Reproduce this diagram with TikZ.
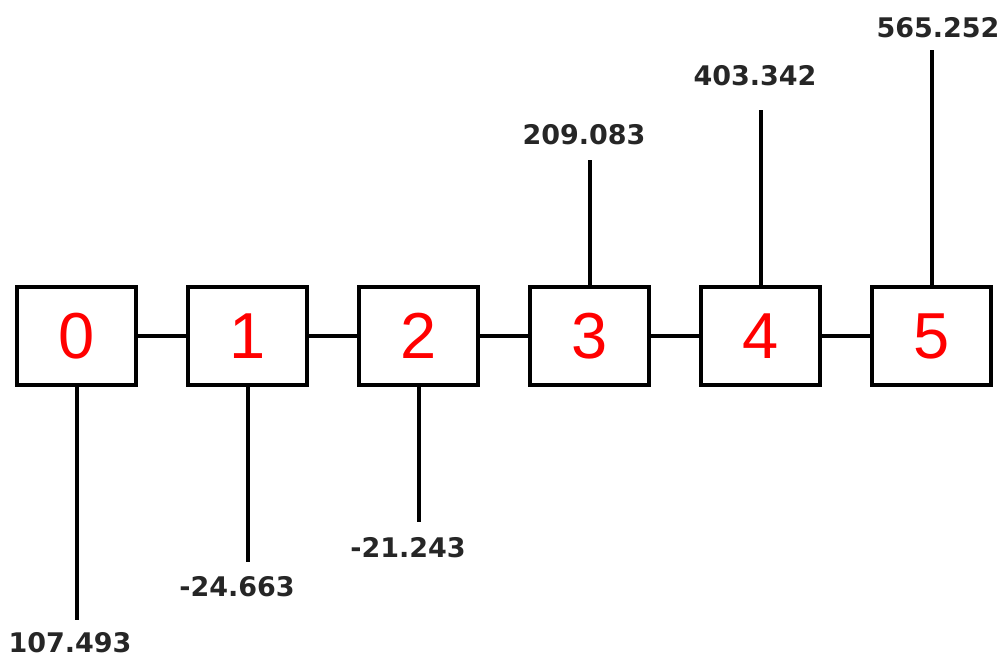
\documentclass[tikz,border=0pt]{standalone}
\usepackage{fontspec}
\setmainfont{Liberation Sans}
\newfontfamily\valfont{DejaVu Sans}
\usetikzlibrary{positioning}

\begin{document}
\begin{tikzpicture}[x=1pt, y=1pt, node distance=48pt, line width=4pt,
    cell/.style={draw, minimum width=119pt, minimum height=98pt, inner sep=0pt,
                 text=red, font=\fontsize{65}{65}\selectfont},
    val/.style={inner sep=0pt, text=black!85, font=\valfont\bfseries\fontsize{27}{27}\selectfont}]
    \useasboundingbox (0,0) rectangle (1005,660);

    % the chain of cells
    \node[cell]                  (b0) at (76.5,324) {0};
    \node[cell, right=of b0]     (b1) {1};
    \node[cell, right=of b1]     (b2) {2};
    \node[cell, right=of b2]     (b3) {3};
    \node[cell, right=of b3]     (b4) {4};
    \node[cell, right=of b4]     (b5) {5};
    \foreach \a/\b in {0/1,1/2,2/3,3/4,4/5}
        \draw (b\a) -- (b\b);

    % negative side: stems below
    \foreach \i/\len/\txt/\vx/\vy in {0/233/107.493/70/17, 1/175/-24.663/237/73, 2/135/-21.243/408/112} {
        \path (b\i.south) ++(0,-\len) coordinate (e\i);
        \draw (b\i.south) -- (e\i);
        \node[val] (v\i) at (\vx,\vy) {\txt};
    }
    % positive side: stems above
    \foreach \i/\len/\txt/\vx/\vy in {3/125/209.083/584/525.5, 4/175/403.342/755/584.5, 5/235/565.252/938/632} {
        \path (b\i.north) ++(0,\len) coordinate (e\i);
        \draw (b\i.north) -- (e\i);
        \node[val] (v\i) at (\vx,\vy) {\txt};
    }
\end{tikzpicture}
\end{document}
